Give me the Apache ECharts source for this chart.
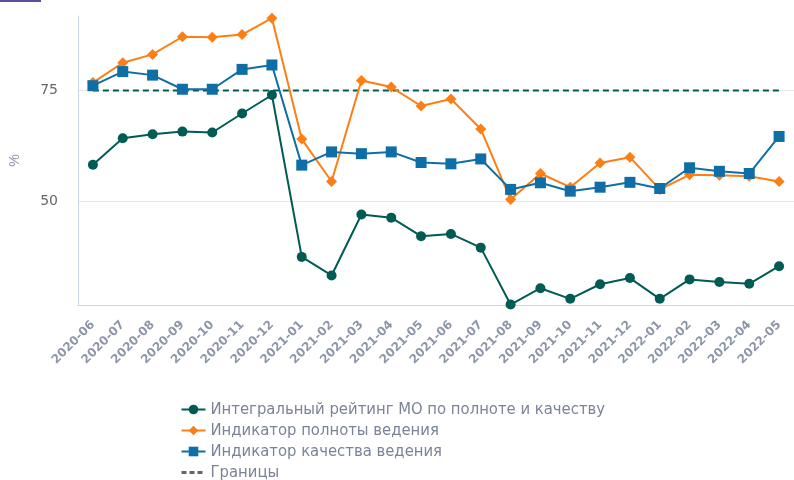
<!DOCTYPE html>
<html>
<head>
<meta charset="utf-8">
<script src="https://cdn.jsdelivr.net/npm/echarts@6/dist/echarts.min.js"></script>
<style>
  html, body { margin: 0; padding: 0; background: #fff; }
  #chart { width: 794px; height: 480px; }
</style>
</head>
<body>
<div id="chart"></div>
<script>
// месяцы
const months = [
  "2020-06", "2020-07", "2020-08", "2020-09", "2020-10", "2020-11", "2020-12",
  "2021-01", "2021-02", "2021-03", "2021-04", "2021-05", "2021-06", "2021-07",
  "2021-08", "2021-09", "2021-10", "2021-11", "2021-12",
  "2022-01", "2022-02", "2022-03", "2022-04", "2022-05"
];

// Интегральный рейтинг МО по полноте и качеству
const integral = [
  58.2, 64.2, 65.1, 65.7, 65.5, 69.8, 74.0,
  37.3, 33.1, 46.9, 46.2, 42.0, 42.5, 39.4,
  26.5, 30.2, 27.8, 31.1, 32.5,
  27.8, 32.2, 31.6, 31.2, 35.2
];

// Индикатор полноты ведения
const completeness = [
  76.8, 81.3, 83.2, 87.2, 87.1, 87.7, 91.4,
  64.0, 54.4, 77.3, 75.8, 71.5, 73.1, 66.3,
  50.3, 56.2, 53.1, 58.6, 59.9,
  52.6, 55.9, 55.8, 55.6, 54.4
];

// Индикатор качества ведения
const quality = [
  76.1, 79.3, 78.5, 75.3, 75.3, 79.8, 80.8,
  58.1, 61.1, 60.7, 61.1, 58.7, 58.4, 59.5,
  52.6, 54.1, 52.2, 53.1, 54.2,
  52.8, 57.5, 56.7, 56.2, 64.6
];

// Границы
const bounds = months.map(() => 75);

const yTicks = [50, 75];

const myChart = echarts.init(document.getElementById("chart"));

const option = {
  animation: false,
  graphic: [
    {
      type: "rect",
      left: 0,
      top: 0,
      shape: { width: 41, height: 2 },
      style: { fill: "#5a4f9e" },
    },
  ],
  grid: {
    left: 78,
    right: -3,
    top: 16,
    bottom: 175,
  },
  legend: {
    orient: "vertical",
    left: 180,
    top: 401,
    height: 90,
    padding: 0,
    itemGap: 4,
    itemWidth: 24,
    itemHeight: 12,
    textStyle: {
      fontFamily: "DejaVu Sans Condensed",
      fontSize: 16.5,
      lineHeight: 16,
      color: "#7b8397",
    },
    data: [
      { name: "Интегральный рейтинг МО по полноте и качеству" },
      { name: "Индикатор полноты ведения" },
      { name: "Индикатор качества ведения" },
      {
        name: "Границы",
        itemStyle: { color: "rgba(0,0,0,0)", borderWidth: 0 },
        lineStyle: { color: "#666", type: [5, 3], width: 3 },
      },
    ],
  },
  xAxis: {
    type: "category",
    data: months,
    boundaryGap: true,
    axisLine: { lineStyle: { color: "#ccd6eb", width: 1 } },
    axisTick: { show: false },
    axisLabel: {
      rotate: 45,
      interval: 0,
      margin: 18,
      fontSize: 12,
      fontWeight: "bold",
      color: "#8d96a8",
      fontFamily: "DejaVu Sans",
    },
  },
  yAxis: {
    type: "value",
    min: 26.4,
    max: 91.9,
    name: "%",
    nameLocation: "middle",
    nameGap: 56,
    nameRotate: 90,
    nameTextStyle: { color: "#8d96a8", fontSize: 14 },
    axisLine: { show: true, lineStyle: { color: "#ccd6eb", width: 1 } },
    axisTick: { show: false, customValues: yTicks },
    axisLabel: {
      customValues: yTicks,
      color: "#666",
      fontSize: 14,
      margin: 20,
      fontFamily: "DejaVu Sans",
    },
    splitLine: { show: true, lineStyle: { color: "#e6e6e6", width: 1 } },
  },
  series: [
    {
      name: "Интегральный рейтинг МО по полноте и качеству",
      type: "line",
      data: integral,
      color: "#005c53",
      symbol: "circle",
      symbolSize: 10,
      lineStyle: { width: 2 },
    },
    {
      name: "Индикатор полноты ведения",
      type: "line",
      data: completeness,
      color: "#fd7e14",
      symbol: "diamond",
      symbolSize: 11,
      lineStyle: { width: 2 },
    },
    {
      name: "Индикатор качества ведения",
      type: "line",
      data: quality,
      color: "#0f6ea6",
      symbol: "rect",
      symbolSize: 11,
      lineStyle: { width: 2 },
    },
    {
      name: "Границы",
      type: "line",
      data: bounds,
      color: "#005c53",
      showSymbol: false,
      symbol: "none",
      lineStyle: { width: 2, type: [6, 4] },
      z: 1,
    },
  ],
};

option && myChart.setOption(option);
</script>
</body>
</html>
